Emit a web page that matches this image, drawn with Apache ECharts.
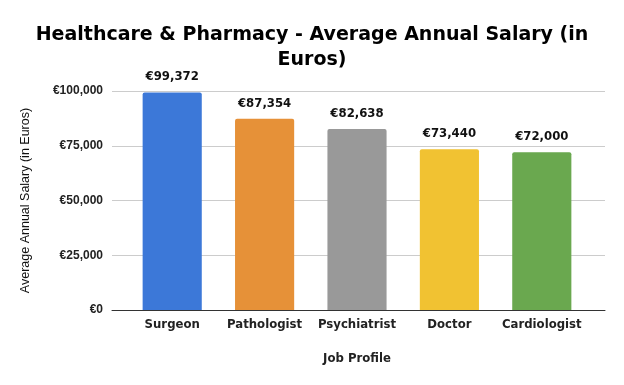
<!DOCTYPE html>
<html><head><meta charset="utf-8">
<script src="https://cdn.jsdelivr.net/npm/echarts@6/dist/echarts.min.js"></script>
<style>html,body{margin:0;padding:0;background:#fff}#c{width:624px;height:385px}</style>
</head><body><div id="c"></div>
<script>
const categories = ["Surgeon", "Pathologist", "Psychiatrist", "Doctor", "Cardiologist"];
const salaries = [99372, 87354, 82638, 73440, 72000];
const barColors = ["#3c78d8", "#e69138", "#999999", "#f1c232", "#6aa84f"];
const yTicks = [0, 25000, 50000, 75000, 100000];

const fmt = v => "€" + v.toLocaleString("en-US");
const cond = "'DejaVu Sans Condensed', 'DejaVu Sans'";
const chart = echarts.init(document.getElementById("c"), null, {renderer: "canvas"});
chart.setOption({
  animation: false,
  backgroundColor: "#fff",
  title: {
    text: "Healthcare & Pharmacy - Average Annual Salary (in\nEuros)",
    left: "center", top: 18,
    textStyle: {fontFamily: "DejaVu Sans", fontWeight: "bold", fontSize: 19, color: "#000", lineHeight: 25}
  },
  grid: [
    {left: 126, right: 36, top: 91, bottom: 75},
    {left: 112, right: 19, top: 91, bottom: 75}
  ],
  xAxis: [
    {gridIndex: 0, type: "category", data: categories,
     axisLine: {show: false}, axisTick: {show: false},
     axisLabel: {interval: 0, fontFamily: cond, fontWeight: "bold", fontSize: 13, color: "#222", margin: 8},
     name: "Job Profile", nameLocation: "middle", nameGap: 42,
     nameTextStyle: {fontFamily: cond, fontWeight: "bold", fontSize: 13, color: "#222"}},
    {gridIndex: 1, type: "value", min: 0, max: 1, show: true,
     axisLine: {show: true, onZero: false, lineStyle: {color: "#333", width: 1}},
     axisTick: {show: false}, axisLabel: {show: false}, splitLine: {show: false}}
  ],
  yAxis: [
    {gridIndex: 0, type: "value", min: yTicks[0], max: yTicks[yTicks.length - 1], interval: 25000, show: false},
    {gridIndex: 1, type: "value", min: yTicks[0], max: yTicks[yTicks.length - 1], interval: 25000,
     axisLine: {show: false}, axisTick: {show: false},
     axisLabel: {formatter: v => fmt(v), fontFamily: "Liberation Sans", fontWeight: "bold", fontSize: 12, color: "#222", margin: 9},
     splitLine: {lineStyle: {color: "#cccccc", width: 1}},
     name: "Average Annual Salary (in Euros)", nameLocation: "middle", nameGap: 80,
     nameTextStyle: {fontFamily: "Liberation Sans", fontSize: 12.5, color: "#111"}}
  ],
  series: [{
    type: "bar", xAxisIndex: 0, yAxisIndex: 0,
    data: salaries.map((v, i) => ({value: v, itemStyle: {color: barColors[i]}})),
    barWidth: "64%",
    itemStyle: {borderRadius: [2, 2, 0, 0]},
    label: {show: true, position: "top", distance: 9, formatter: p => fmt(p.value),
      fontFamily: cond, fontWeight: "bold", fontSize: 13, color: "#111"}
  }]
});
</script></body></html>
